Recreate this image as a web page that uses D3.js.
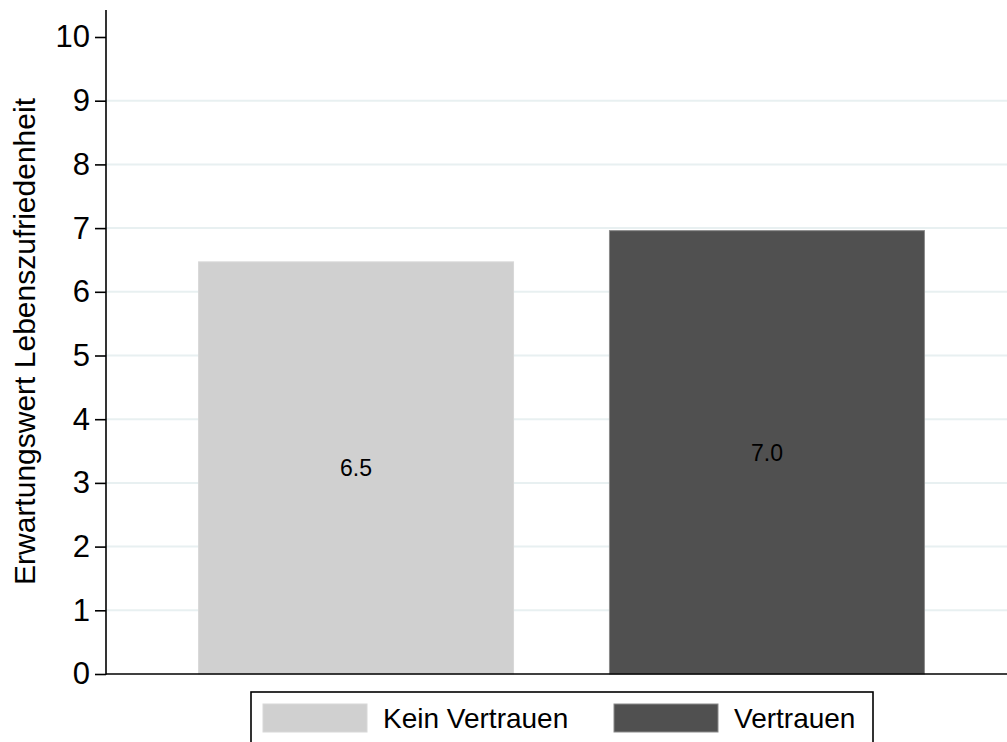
<!DOCTYPE html>
<html><head><meta charset="utf-8">
<script src="https://cdn.jsdelivr.net/npm/d3@7"></script>
<style>html,body{margin:0;padding:0;background:#fff;overflow:hidden}svg{display:block;font-family:"Liberation Sans",Arial,sans-serif}</style>
</head><body><svg id="c" width="1007" height="742"></svg>
<script>
const categories = ["Kein Vertrauen", "Vertrauen"];
const values = [6.47, 6.96];
const valueLabels = ["6.5", "7.0"];
const colors = ["#d0d0d0", "#505050"];
const strokes = ["#d8d8d8", "#8a8a8a"];
const yTicks = [0,1,2,3,4,5,6,7,8,9,10];
const gridTicks = [1,2,3,4,5,6,7,8,9];
const yTitle = "Erwartungswert Lebenszufriedenheit";

const svg = d3.select("#c");
const W = 1007, H = 742;
const x0 = 106, y0 = 674;
const y = d3.scaleLinear().domain([0,10]).range([674, 37]);
const x = d3.scaleBand().domain(categories).range([106, 1017]).paddingInner(0.231).paddingOuter(0.224);

svg.append("rect").attr("width", W).attr("height", H).attr("fill", "#fff");

// gridlines
svg.append("g").selectAll("line").data(gridTicks).join("line")
  .attr("x1", x0).attr("x2", W).attr("y1", d => y(d)).attr("y2", d => y(d))
  .attr("stroke", "#e8f0f1").attr("stroke-width", 2);

// bars
svg.append("g").selectAll("rect").data(values).join("rect")
  .attr("x", (d,i) => x(categories[i]) + 0.5)
  .attr("width", x.bandwidth() - 1)
  .attr("y", d => y(d))
  .attr("height", d => y(0) - y(d))
  .attr("fill", (d,i) => colors[i])
  .attr("stroke", (d,i) => strokes[i]).attr("stroke-width", 1);

// value labels
svg.append("g").selectAll("text").data(values).join("text")
  .attr("x", (d,i) => x(categories[i]) + x.bandwidth()/2)
  .attr("y", d => (y(d) + y(0)) / 2)
  .attr("dy", "0.36em")
  .attr("text-anchor", "middle")
  .attr("font-size", 23).attr("fill", "#000")
  .text((d,i) => valueLabels[i]);

// y axis
const yAxis = d3.axisLeft(y).tickValues(yTicks).tickSize(11).tickPadding(5).tickFormat(d3.format("d"));
const gy = svg.append("g").attr("transform", `translate(${x0},0)`).call(yAxis);
gy.select(".domain").remove();
gy.selectAll(".tick line").attr("stroke", "#000").attr("stroke-width", 1.6);
gy.selectAll(".tick text").attr("font-size", 31).attr("fill", "#000").attr("font-family", "Liberation Sans, Arial, sans-serif");
svg.append("line").attr("x1", x0).attr("x2", x0).attr("y1", 10).attr("y2", y0 + 0.8)
  .attr("stroke", "#000").attr("stroke-width", 1.6);
// x axis line
svg.append("line").attr("x1", x0).attr("x2", W).attr("y1", y0).attr("y2", y0)
  .attr("stroke", "#000").attr("stroke-width", 1.6);

// y title
svg.append("text")
  .attr("transform", `translate(35,${(93+590)/2}) rotate(-90)`)
  .attr("text-anchor", "middle")
  .attr("font-size", 30).attr("fill", "#000")
  .text(yTitle);

// legend
const lg = svg.append("g");
lg.append("rect").attr("x", 251).attr("y", 692).attr("width", 622).attr("height", 70)
  .attr("fill", "#fff").attr("stroke", "#000").attr("stroke-width", 1.6);
const legX = [263, 614];
categories.forEach((c, i) => {
  lg.append("rect").attr("x", legX[i]).attr("y", 704).attr("width", 104).attr("height", 28)
    .attr("fill", colors[i]).attr("stroke", strokes[i]).attr("stroke-width", 1);
  lg.append("text").attr("x", legX[i] + 120).attr("y", 718).attr("dy", "0.36em")
    .attr("font-size", 28).attr("fill", "#000").text(c);
});
</script></body></html>
